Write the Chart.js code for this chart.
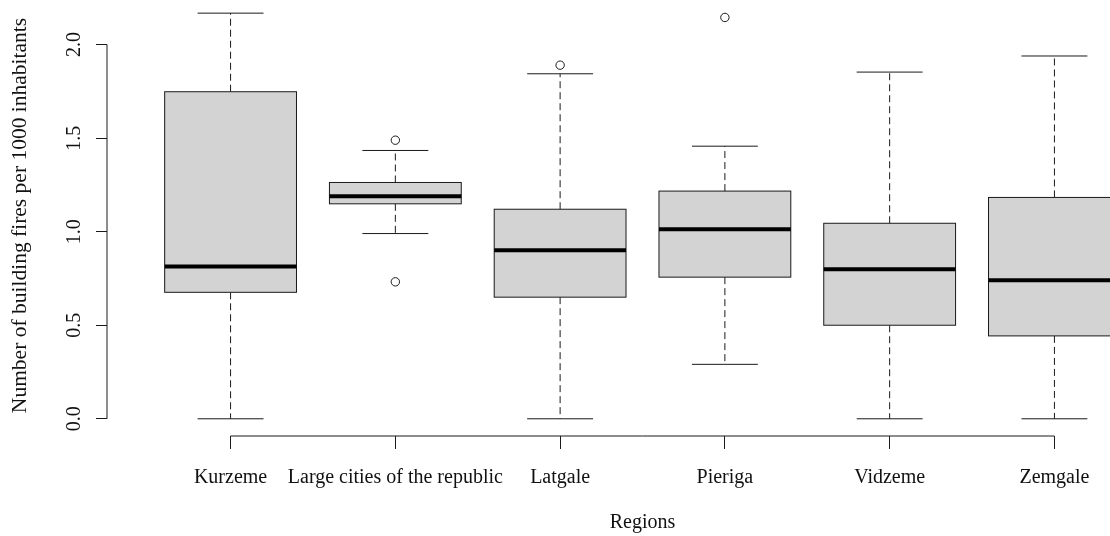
<!DOCTYPE html>
<html>
<head>
<meta charset="utf-8">
<title>Building fires by region</title>
<script src="https://cdn.jsdelivr.net/npm/chart.js@4.4.1/dist/chart.umd.min.js"></script>
<style>
    html, body {
        margin: 0;
        padding: 0;
        background: #ffffff;
        overflow: hidden;
    }
    /* the R device was a bit bigger than the picture, so the canvas is cropped the same way */
    #wrap {
        position: absolute;
        left: 0;
        top: -5px;
        width: 1178px;
        height: 541px;
    }
</style>
</head>
<body>
<div id="wrap"><canvas id="myChart"></canvas></div>
<script>
const categories = ['Kurzeme', 'Large cities of the republic', 'Latgale', 'Pieriga', 'Vidzeme', 'Zemgale']

// five number summary per region
const whiskerLow = [0.0, 0.990, 0.0, 0.291, 0.0, 0.0]
const quartile1 = [0.676, 1.149, 0.650, 0.757, 0.500, 0.443]
const median = [0.814, 1.190, 0.901, 1.013, 0.799, 0.741]
const quartile3 = [1.748, 1.263, 1.120, 1.217, 1.045, 1.183]
const whiskerHigh = [2.168, 1.434, 1.844, 1.457, 1.853, 1.939]

// outliers: region number (1 based) and value
const outlierRegion = [2, 2, 3, 4]
const outlierValue = [1.489, 0.732, 1.890, 2.145]

const yTicks = [0.0, 0.5, 1.0, 1.5, 2.0]

const serif = "'Liberation Serif', 'Times New Roman', serif"
const ink = '#1a1a1a'

Chart.defaults.font.family = serif
Chart.defaults.color = '#111111'

const boxPlugin = {
    id: 'boxPlugin',
    beforeDatasetsDraw(chart) {
        const ctx = chart.ctx
        const xs = chart.scales.x
        const ys = chart.scales.y
        const area = chart.chartArea

        ctx.save()
        ctx.strokeStyle = ink
        ctx.lineWidth = 1

        // axis lines, R style: only from first to last tick
        ctx.beginPath()
        ctx.moveTo(xs.getPixelForValue(1), area.bottom)
        ctx.lineTo(xs.getPixelForValue(categories.length), area.bottom)
        ctx.moveTo(area.left, ys.getPixelForValue(yTicks[0]))
        ctx.lineTo(area.left, ys.getPixelForValue(yTicks[yTicks.length - 1]))
        ctx.stroke()

        categories.forEach((name, i) => {
            const x = i + 1
            const cx = xs.getPixelForValue(x)
            const left = xs.getPixelForValue(x - 0.4)
            const right = xs.getPixelForValue(x + 0.4)
            const capL = xs.getPixelForValue(x - 0.2)
            const capR = xs.getPixelForValue(x + 0.2)
            const yLow = ys.getPixelForValue(whiskerLow[i])
            const yQ1 = ys.getPixelForValue(quartile1[i])
            const yMed = ys.getPixelForValue(median[i])
            const yQ3 = ys.getPixelForValue(quartile3[i])
            const yHigh = ys.getPixelForValue(whiskerHigh[i])

            // dashed whiskers
            ctx.setLineDash([7, 4])
            ctx.lineWidth = 1
            ctx.strokeStyle = ink
            ctx.beginPath()
            ctx.moveTo(cx, yQ3)
            ctx.lineTo(cx, yHigh)
            ctx.moveTo(cx, yQ1)
            ctx.lineTo(cx, yLow)
            ctx.stroke()
            ctx.setLineDash([])

            // caps
            ctx.beginPath()
            ctx.moveTo(capL, yHigh)
            ctx.lineTo(capR, yHigh)
            ctx.moveTo(capL, yLow)
            ctx.lineTo(capR, yLow)
            ctx.stroke()

            // box
            ctx.fillStyle = '#d3d3d3'
            ctx.fillRect(left, yQ3, right - left, yQ1 - yQ3)
            ctx.strokeRect(left, yQ3, right - left, yQ1 - yQ3)

            // median
            ctx.strokeStyle = '#000000'
            ctx.lineWidth = 4
            ctx.beginPath()
            ctx.moveTo(left, yMed)
            ctx.lineTo(right, yMed)
            ctx.stroke()
        })
        ctx.restore()
    }
}

const outlierPoints = outlierRegion.map((r, i) => ({ x: r, y: outlierValue[i] }))

const ctx = document.getElementById('myChart')

const myChart = new Chart(ctx, {
    type: 'scatter',
    data: {
        datasets: [{
            label: 'Outliers',
            data: outlierPoints,
            pointStyle: 'circle',
            pointRadius: 4.2,
            pointHoverRadius: 4.2,
            borderWidth: 1,
            borderColor: ink,
            backgroundColor: '#ffffff',
        }],
    },
    options: {
        responsive: true,
        maintainAspectRatio: false,
        animation: false,
        layout: { padding: 0, autoPadding: false },
        plugins: {
            legend: { display: false },
            tooltip: { enabled: false },
        },
        scales: {
            x: {
                type: 'linear',
                position: 'bottom',
                min: 0.25,
                max: 6.75,
                afterBuildTicks: (scale) => {
                    scale.ticks = categories.map((c, i) => ({ value: i + 1 }))
                },
                afterFit: (scale) => {
                    scale.height = 100
                    scale.paddingLeft = 0
                    scale.paddingRight = 0
                },
                ticks: {
                    autoSkip: false,
                    maxRotation: 0,
                    padding: 17,
                    color: '#111111',
                    font: { size: 20 },
                    callback: (value, index) => categories[index],
                },
                grid: {
                    drawOnChartArea: false,
                    drawTicks: true,
                    tickLength: 13,
                    color: ink,
                },
                border: { display: false },
                title: {
                    display: true,
                    text: 'Regions',
                    color: '#111111',
                    font: { size: 20 },
                    padding: { top: 0, bottom: 1 },
                },
            },
            y: {
                type: 'linear',
                min: -0.092,
                max: 2.265,
                afterBuildTicks: (scale) => {
                    scale.ticks = yTicks.map(v => ({ value: v }))
                },
                afterFit: (scale) => {
                    scale.width = 107
                    scale.paddingTop = 0
                    scale.paddingBottom = 0
                },
                ticks: {
                    minRotation: 90,
                    maxRotation: 90,
                    crossAlign: 'center',
                    padding: 9,
                    color: '#111111',
                    font: { size: 20 },
                    callback: (value) => Number(value).toFixed(1),
                },
                grid: {
                    drawOnChartArea: false,
                    drawTicks: true,
                    tickLength: 11,
                    color: ink,
                },
                border: { display: false },
                title: {
                    display: true,
                    text: 'Number of building fires per 1000 inhabitants',
                    color: '#111111',
                    font: { size: 21.5 },
                    padding: { top: 7, bottom: 0 },
                },
            },
        },
    },
    plugins: [boxPlugin],
})
</script>
</body>
</html>
